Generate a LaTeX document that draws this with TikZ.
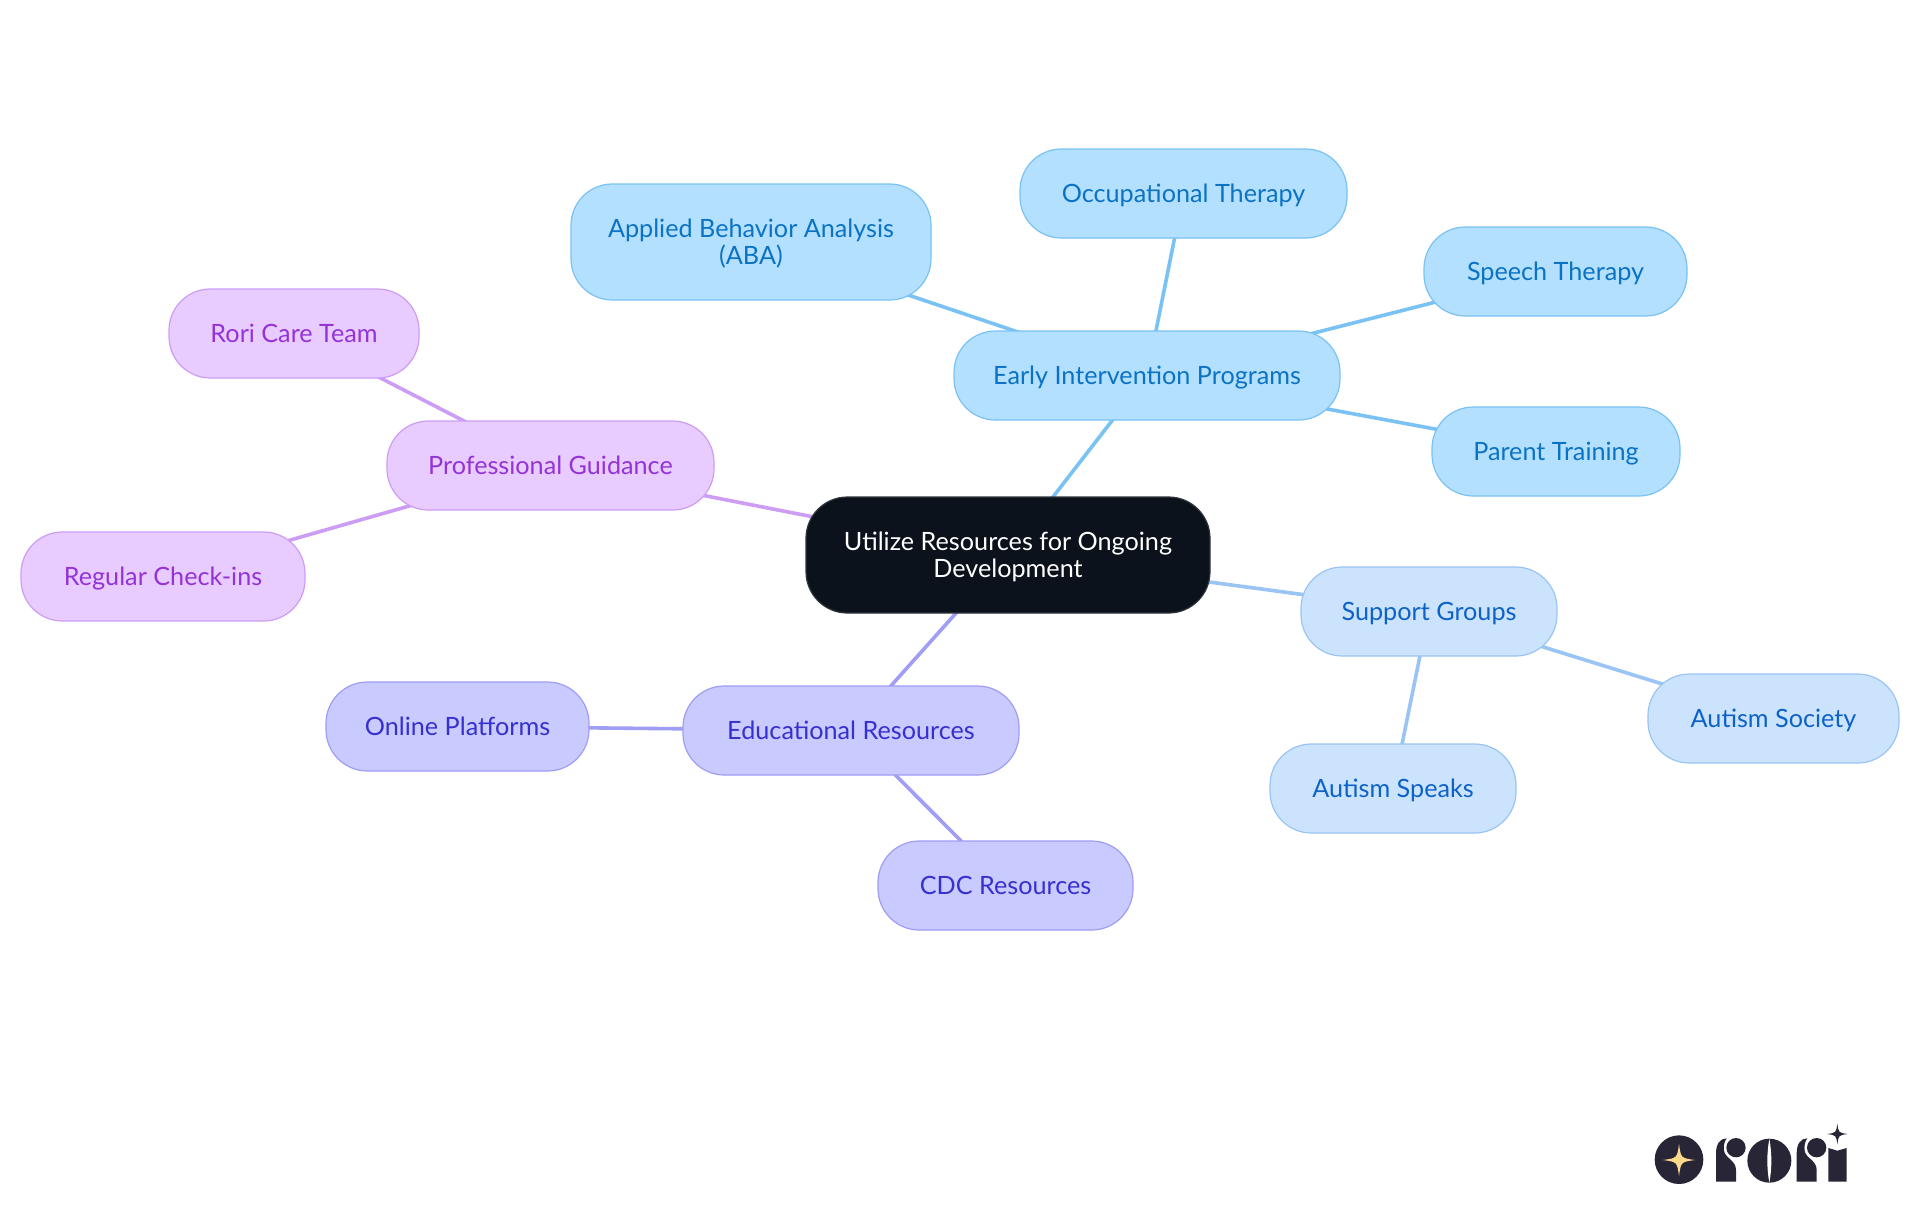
\documentclass[tikz,border=0pt]{standalone}
\usepackage{fontspec}
\setmainfont{Lato}
\usetikzlibrary{backgrounds}
\definecolor{bluefill}{HTML}{B3E0FF}\definecolor{bluedraw}{HTML}{7AC2F3}\definecolor{bluetext}{HTML}{0B72C4}
\definecolor{palefill}{HTML}{CCE3FD}\definecolor{paledraw}{HTML}{9AC4F3}\definecolor{paletext}{HTML}{0D62C8}
\definecolor{indfill}{HTML}{C9CAFF}\definecolor{inddraw}{HTML}{A09DF5}\definecolor{indtext}{HTML}{3730D0}
\definecolor{purfill}{HTML}{E8CBFF}\definecolor{purdraw}{HTML}{CD9DF5}\definecolor{purtext}{HTML}{9333D8}
\definecolor{rootfill}{HTML}{0B121B}\definecolor{logodark}{HTML}{282636}\definecolor{logostar}{HTML}{FFD98A}
\tikzset{
  x=0.75pt,y=-0.75pt,
  mind/.style={rectangle,rounded corners=31pt,line width=0.9pt,inner sep=0pt,align=center,
    font=\fontsize{18.9}{20.25}\selectfont},
  rootbox/.style={mind,fill=rootfill,draw=rootfill!85!white,text=white},
  bluebox/.style={mind,fill=bluefill,draw=bluedraw,text=bluetext},
  palebox/.style={mind,fill=palefill,draw=paledraw,text=paletext},
  indbox/.style={mind,fill=indfill,draw=inddraw,text=indtext},
  purbox/.style={mind,fill=purfill,draw=purdraw,text=purtext},
  link/.style={line width=2.7pt},
  logoink/.style={fill=logodark,draw=none},
}
\newcommand{\mstop}{\rule{0pt}{0.9em}}
\newcommand{\msbot}{\rule[-0.21em]{0pt}{0.21em}}
% name, left, top, right, bottom, style, text
\newcommand{\mnode}[7]{%
  \pgfmathsetmacro{\mw}{(#4-#2)*0.75}\pgfmathsetmacro{\mh}{(#5-#3)*0.75}%
  \node[#6,minimum width=\mw pt,minimum height=\mh pt] (#1) at ({(#2+#4)/2},{(#3+#5)/2}) {\mstop #7\msbot};%
}
\newcommand{\fourstar}[4]{% x,y,r,colour
  \fill[#4] (#1,#2-#3) .. controls (#1+.12*#3,#2-.12*#3) .. (#1+#3,#2)
   .. controls (#1+.12*#3,#2+.12*#3) .. (#1,#2+#3)
   .. controls (#1-.12*#3,#2+.12*#3) .. (#1-#3,#2)
   .. controls (#1-.12*#3,#2-.12*#3) .. cycle;%
}
\newcommand{\logor}[1]{% x offset of an r
  \begin{scope}[xshift=#1*0.25pt]
  \fill[logoink] (18,185)--(18,100) .. controls (18,72) and (30,55) .. (50,55)
    .. controls (42,65) and (40,80) .. (42,92) .. controls (45,115) and (78,120) .. (78,150)
    --(78,185)--cycle;
  \fill[logoink] (78,83) circle (29);
  \end{scope}
}
\begin{document}
\begin{tikzpicture}
\useasboundingbox (0,0) rectangle (1920,1215);
\mnode{root}{806}{497}{1210}{613}{rootbox}{Utilize Resources for Ongoing\\Development}
\mnode{early}{954}{331}{1340}{420}{bluebox}{Early Intervention Programs}
\mnode{aba}{571}{184}{931}{300}{bluebox}{Applied Behavior Analysis\\(ABA)}
\mnode{ot}{1020}{149}{1347}{238}{bluebox}{Occupational Therapy}
\mnode{speech}{1424}{227}{1687}{316}{bluebox}{Speech Therapy}
\mnode{parent}{1432}{407}{1680}{496}{bluebox}{Parent Training}
\mnode{prof}{387}{421}{714}{510}{purbox}{Professional Guidance}
\mnode{care}{169}{289}{419}{378}{purbox}{Rori Care Team}
\mnode{checkins}{21}{532}{305}{621}{purbox}{Regular Check-ins}
\mnode{edu}{683}{686}{1019}{775}{indbox}{Educational Resources}
\mnode{online}{326}{682}{589}{771}{indbox}{Online Platforms}
\mnode{cdc}{878}{841}{1133}{930}{indbox}{CDC Resources}
\mnode{support}{1301}{567}{1557}{656}{palebox}{Support Groups}
\mnode{society}{1648}{674}{1899}{763}{palebox}{Autism Society}
\mnode{speaks}{1270}{744}{1516}{833}{palebox}{Autism Speaks}
\begin{pgfonlayer}{background}
\fill[white] (0,0) rectangle (1920,1215);
\draw[link,bluedraw] (root.center)--(early.center) (early.center)--(aba.center) (early.center)--(ot.center) (early.center)--(speech.center) (early.center)--(parent.center);
\draw[link,purdraw] (root.center)--(prof.center) (prof.center)--(care.center) (prof.center)--(checkins.center);
\draw[link,inddraw] (root.center)--(edu.center) (edu.center)--(online.center) (edu.center)--(cdc.center);
\draw[link,paledraw] (root.center)--(support.center) (support.center)--(society.center) (support.center)--(speaks.center);
\end{pgfonlayer}
% logo
\begin{scope}[shift={(1600,1090)},x=0.25pt,y=-0.25pt]
\fill[logoink] (237,209) circle (73);
\fourstar{237}{210}{48}{logostar}
\end{scope}
\begin{scope}[shift={(1710,1120)},x=0.25pt,y=-0.25pt]
\logor{0}
\logor{242}
\fill[logoink] (178,122) circle (66);
\fill[white] (178,56) .. controls (170,100) and (170,145) .. (178,188)
  .. controls (186,145) and (186,100) .. (178,56);
\fill[logoink] (355,185)--(355,84) .. controls (365,84) and (372,92) .. (382,92)
  .. controls (392,92) and (400,84) .. (410,84)--(410,185)--cycle;
\fourstar{382}{42}{31}{logodark}
\end{scope}
\end{tikzpicture}
\end{document}
